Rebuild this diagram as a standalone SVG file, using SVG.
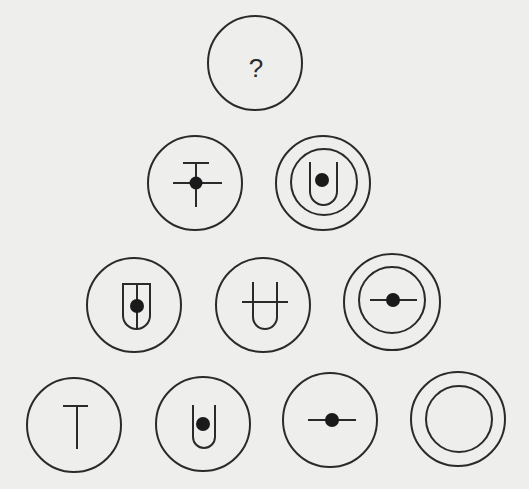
<svg xmlns="http://www.w3.org/2000/svg" width="529" height="489" viewBox="0 0 529 489">
<style>
.c{fill:none;stroke:#2a2a2a;stroke-width:2}
.s{fill:none;stroke:#2a2a2a;stroke-width:2;stroke-linecap:butt}
.d{fill:#1a1a1a}
.t{font-family:"Liberation Sans",Arial,sans-serif;font-size:26px;fill:#2a2a2a;text-anchor:middle}
</style>
<rect width="529" height="489" fill="#eeeeec"/>
<g id="q"><circle class="c" cx="255" cy="63" r="47"/><text class="t" x="256" y="77">?</text></g>
<g id="r2a"><circle class="c" cx="195" cy="183" r="47"/><path class="s" d="M183 163H209M196 163V207M173 183H222"/><circle class="d" cx="196" cy="183" r="6.5"/></g>
<g id="r2b"><circle class="c" cx="323" cy="183" r="47"/><circle class="c" cx="324" cy="182" r="33"/><path class="s" d="M310 162V191.5A13.5 13.5 0 0 0 337 191.5V162"/><circle class="d" cx="322" cy="180" r="7"/></g>
<g id="r3a"><circle class="c" cx="134" cy="305" r="47"/><path class="s" d="M123 284H150V315.5A13.5 13.5 0 0 1 123 315.5ZM137 284V329"/><circle class="d" cx="137" cy="306" r="7"/></g>
<g id="r3b"><circle class="c" cx="263" cy="305" r="47"/><path class="s" d="M253 282V317A12 12 0 0 0 277 317V282M242 302H288"/></g>
<g id="r3c"><circle class="c" cx="392" cy="302" r="48"/><circle class="c" cx="392" cy="300" r="33"/><path class="s" d="M370 300H417"/><circle class="d" cx="393" cy="300" r="7"/></g>
<g id="r4a"><circle class="c" cx="74" cy="425" r="47"/><path class="s" d="M63 406H88M77 406V449"/></g>
<g id="r4b"><circle class="c" cx="203" cy="424" r="47"/><path class="s" d="M193 405V437A11 11 0 0 0 215 437V405"/><circle class="d" cx="203" cy="424" r="7"/></g>
<g id="r4c"><circle class="c" cx="330" cy="420" r="47"/><path class="s" d="M308 420H356"/><circle class="d" cx="332" cy="420" r="7"/></g>
<g id="r4d"><circle class="c" cx="458" cy="419" r="47"/><circle class="c" cx="459" cy="419" r="33"/></g>
</svg>
